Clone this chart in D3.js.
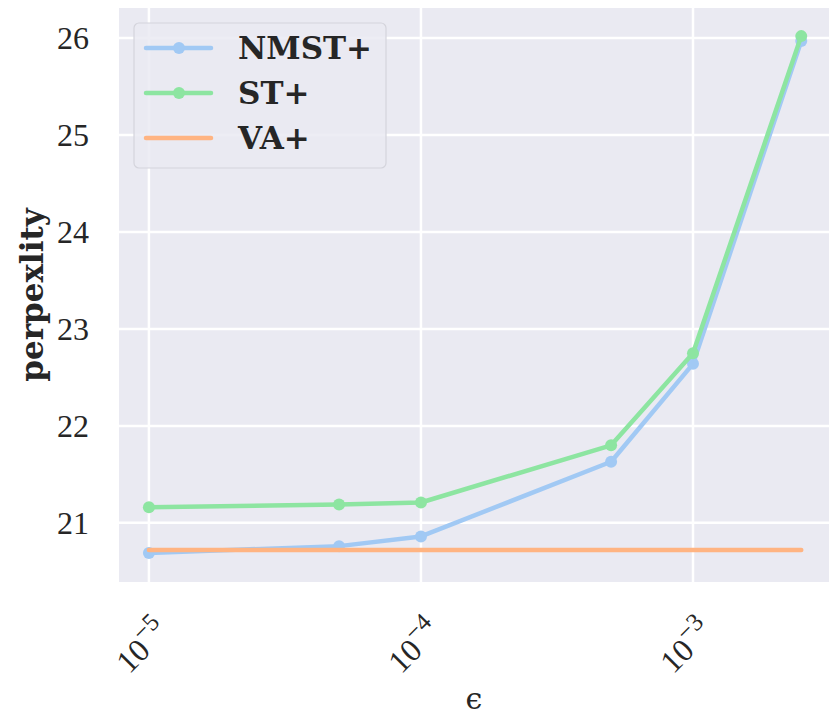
<!DOCTYPE html>
<html>
<head>
<meta charset="utf-8">
<script src="https://cdn.jsdelivr.net/npm/d3@7"></script>
<style>
  body { margin: 0; background: #fff; }
  svg { display: block; }
  .tick-label { font-family: "Liberation Serif", serif; font-size: 32px; fill: #262626; }
</style>
</head>
<body>
<div id="chart"></div>
<script>
// data
var epsilons = [1e-5, 5e-5, 1e-4, 5e-4, 1e-3, 2.5e-3];
var nmstPlus = [20.69, 20.76, 20.86, 21.63, 22.64, 25.97];
var stPlus   = [21.16, 21.19, 21.21, 21.80, 22.75, 26.02];
var vaPlus   = [20.72, 20.72, 20.72, 20.72, 20.72, 20.72];
var yTicks = [21, 22, 23, 24, 25, 26];
var xTicks = [1e-5, 1e-4, 1e-3];
var xExponents = ["\u22125", "\u22124", "\u22123"];

var series = [
  { name: "NMST+", values: nmstPlus, color: "#a1c9f4", markers: true },
  { name: "ST+",   values: stPlus,   color: "#8de5a1", markers: true },
  { name: "VA+",   values: vaPlus,   color: "#ffb482", markers: false }
];

var W = 829, H = 718;
var plot = { left: 119, right: 829, top: 8, bottom: 582 };

var svg = d3.select("#chart").append("svg")
    .attr("width", W)
    .attr("height", H);

var x = d3.scaleLog()
    .domain([Math.pow(10, -5.11), Math.pow(10, -2.5)])
    .range([plot.left, plot.right]);

var y = d3.scaleLinear()
    .domain([20.39, 26.31])
    .range([plot.bottom, plot.top]);

// axes background
svg.append("rect")
    .attr("x", plot.left)
    .attr("y", plot.top)
    .attr("width", plot.right - plot.left)
    .attr("height", plot.bottom - plot.top)
    .attr("fill", "#eaeaf2");

// grid
var grid = svg.append("g");
grid.selectAll(".hgrid")
    .data(yTicks).enter()
    .append("line")
    .attr("x1", plot.left).attr("x2", plot.right)
    .attr("y1", function(d){ return y(d) }).attr("y2", function(d){ return y(d) })
    .attr("stroke", "#fff").attr("stroke-width", 2.5);
grid.selectAll(".vgrid")
    .data(xTicks).enter()
    .append("line")
    .attr("y1", plot.top).attr("y2", plot.bottom)
    .attr("x1", function(d){ return x(d) }).attr("x2", function(d){ return x(d) })
    .attr("stroke", "#fff").attr("stroke-width", 2.5);

// y tick labels
svg.append("g").selectAll("text")
    .data(yTicks).enter()
    .append("text")
    .attr("class", "tick-label")
    .attr("x", 89)
    .attr("y", function(d){ return y(d) + 11 })
    .attr("text-anchor", "end")
    .text(function(d){ return d });

// x tick labels, rotated 45 degrees
var xl = svg.append("g").selectAll("text")
    .data(xTicks).enter()
    .append("text")
    .attr("class", "tick-label")
    .attr("text-anchor", "middle")
    .attr("transform", function(d){ return "translate(" + (x(d) + 1) + ",654) rotate(-45)" });
xl.append("tspan").text("10");
xl.append("tspan")
    .attr("dy", -14)
    .attr("font-size", 25)
    .text(function(d, i){ return xExponents[i] });

// axis labels
svg.append("text")
    .attr("transform", "translate(43," + ((plot.top + plot.bottom) / 2) + ") rotate(-90)")
    .attr("text-anchor", "middle")
    .style("font-family", "'DejaVu Serif', serif")
    .style("font-weight", "bold")
    .style("font-size", "31px")
    .style("fill", "#262626")
    .text("perpexlity");

svg.append("text")
    .attr("x", (plot.left + plot.right) / 2)
    .attr("y", 709)
    .attr("text-anchor", "middle")
    .style("font-family", "'DejaVu Serif', serif")
    .style("font-size", "30px")
    .style("fill", "#262626")
    .text("\u03f5");

// lines
var line = d3.line()
    .x(function(d, i){ return x(epsilons[i]) })
    .y(function(d){ return y(d) });

var plotArea = svg.append("g");
series.forEach(function(s){
    plotArea.append("path")
        .datum(s.values)
        .attr("d", line)
        .attr("fill", "none")
        .attr("stroke", s.color)
        .attr("stroke-width", 4.5)
        .attr("stroke-linecap", "round")
        .attr("stroke-linejoin", "round");
    if (s.markers) {
        plotArea.selectAll(null)
            .data(s.values).enter()
            .append("circle")
            .attr("cx", function(d, i){ return x(epsilons[i]) })
            .attr("cy", function(d){ return y(d) })
            .attr("r", 6)
            .attr("fill", s.color);
    }
});

// legend
var legend = svg.append("g");
legend.append("rect")
    .attr("x", 134).attr("y", 23)
    .attr("width", 252).attr("height", 145)
    .attr("rx", 5)
    .attr("fill", "#eaeaf2")
    .attr("fill-opacity", 0.85)
    .attr("stroke", "#d4d4dc")
    .attr("stroke-width", 1.2);

var entry = legend.selectAll(".entry")
    .data(series).enter()
    .append("g")
    .attr("transform", function(d, i){ return "translate(0," + (48 + i * 45) + ")" });
entry.append("line")
    .attr("x1", 146).attr("x2", 211)
    .attr("stroke", function(d){ return d.color })
    .attr("stroke-width", 4.5)
    .attr("stroke-linecap", "round");
entry.filter(function(d){ return d.markers })
    .append("circle")
    .attr("cx", 179).attr("r", 6)
    .attr("fill", function(d){ return d.color });
entry.append("text")
    .attr("x", 238).attr("y", 11)
    .style("font-family", "'DejaVu Serif', serif")
    .style("font-weight", "bold")
    .style("font-size", "31px")
    .style("fill", "#262626")
    .text(function(d){ return d.name });
</script>
</body>
</html>
